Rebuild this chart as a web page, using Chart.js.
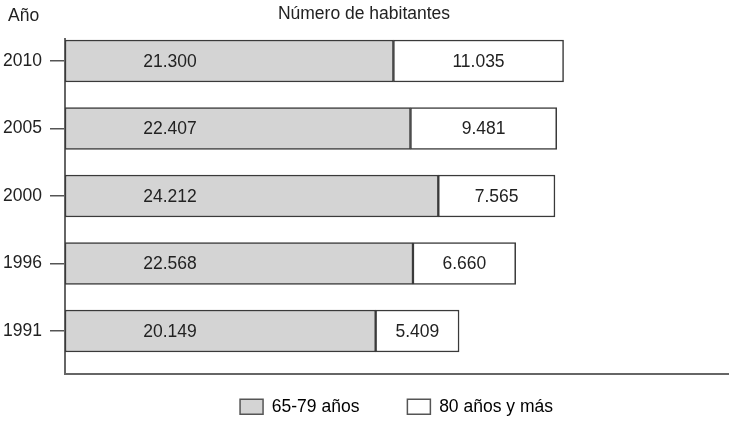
<!DOCTYPE html>
<html>
<head>
<meta charset="utf-8">
<script src="https://cdn.jsdelivr.net/npm/chart.js@4"></script>
<style>
html,body{margin:0;padding:0;background:#fff;}
#wrap{width:730px;height:421px;}
</style>
</head>
<body>
<div id="wrap"><canvas id="c" width="730" height="421"></canvas></div>
<script>
const years = ['2010', '2005', '2000', '1996', '1991'];
const age65to79 = [21300, 22407, 24212, 22568, 20149];
const age80plus = [11035, 9481, 7565, 6660, 5409];
const seriesNames = ['65-79 años', '80 años y más'];
const titleText = 'Número de habitantes';
const yAxisLabel = 'Año';

const FONT = '"Liberation Sans", Arial, Helvetica, sans-serif';
const FS = 17.5;
const fmt = v => v.toLocaleString('de-DE');

const labelPlugin = {
  id: 'barLabels',
  afterDatasetsDraw(chart) {
    const ctx = chart.ctx;
    ctx.save();
    ctx.font = FS + 'px ' + FONT;
    ctx.fillStyle = '#222';
    ctx.textAlign = 'center';
    ctx.textBaseline = 'middle';
    chart.data.datasets.forEach((ds, di) => {
      const meta = chart.getDatasetMeta(di);
      meta.data.forEach((bar, i) => {
        const x = di === 0 ? bar.base + 105 : (bar.base + bar.x) / 2;
        ctx.fillText(fmt(ds.data[i].x), x, bar.y + 1);
      });
    });
    ctx.textAlign = 'left';
    ctx.fillText(yAxisLabel, 8, 16);
    ctx.restore();
  }
};

new Chart(document.getElementById('c'), {
  type: 'bar',
  data: {
    datasets: [
      {
        label: seriesNames[0],
        data: age65to79.map((v, i) => ({ x: v, y: i })),
        backgroundColor: '#d4d4d4',
        borderColor: '#3a3a3a',
        borderWidth: 1.5,
        borderSkipped: false,
        barThickness: 42
      },
      {
        label: seriesNames[1],
        data: age80plus.map((v, i) => ({ x: v, y: i })),
        backgroundColor: '#ffffff',
        borderColor: '#3a3a3a',
        borderWidth: 1.5,
        borderSkipped: false,
        barThickness: 42
      }
    ]
  },
  options: {
    indexAxis: 'y',
    responsive: false,
    animation: false,
    layout: { padding: { left: 0, right: 2, top: 0, bottom: -28.5 } },
    scales: {
      x: {
        type: 'linear',
        stacked: true,
        min: 0,
        max: 43000,
        offset: false,
        ticks: { display: false },
        grid: { display: false, drawTicks: false },
        border: { display: true, color: '#666', width: 2 },
        afterFit(s) { s.height = -24; }
      },
      y: {
        type: 'linear',
        stacked: true,
        reverse: true,
        offset: false,
        min: -0.326,
        max: 4.637,
        afterBuildTicks(s) { s.ticks = years.map((_, i) => ({ value: i })); },
        ticks: {
          callback: v => years[v],
          font: { family: FONT, size: FS },
          color: '#222',
          padding: 8
        },
        grid: { display: true, offset: false, drawOnChartArea: false, drawTicks: true, tickLength: 15, color: '#555', lineWidth: 1.5 },
        border: { display: true, color: '#666', width: 2 },
        afterFit(s) { s.width = 65; }
      }
    },
    plugins: {
      title: {
        display: true,
        text: titleText,
        font: { family: FONT, size: FS, weight: 'normal' },
        color: '#222',
        padding: { top: 4, bottom: 14 }
      },
      legend: {
        position: 'bottom',
        fullSize: false,
        labels: {
          font: { family: FONT, size: FS },
          color: '#222',
          boxWidth: 23,
          boxHeight: 15,
          padding: 48,
          generateLabels(chart) {
            return chart.data.datasets.map((ds, i) => ({
              text: ds.label,
              fillStyle: ds.backgroundColor,
              strokeStyle: '#555',
              lineWidth: 1.5,
              datasetIndex: i,
              hidden: false
            }));
          }
        }
      },
      tooltip: { enabled: false }
    }
  },
  plugins: [labelPlugin]
});
</script>
</body>
</html>
